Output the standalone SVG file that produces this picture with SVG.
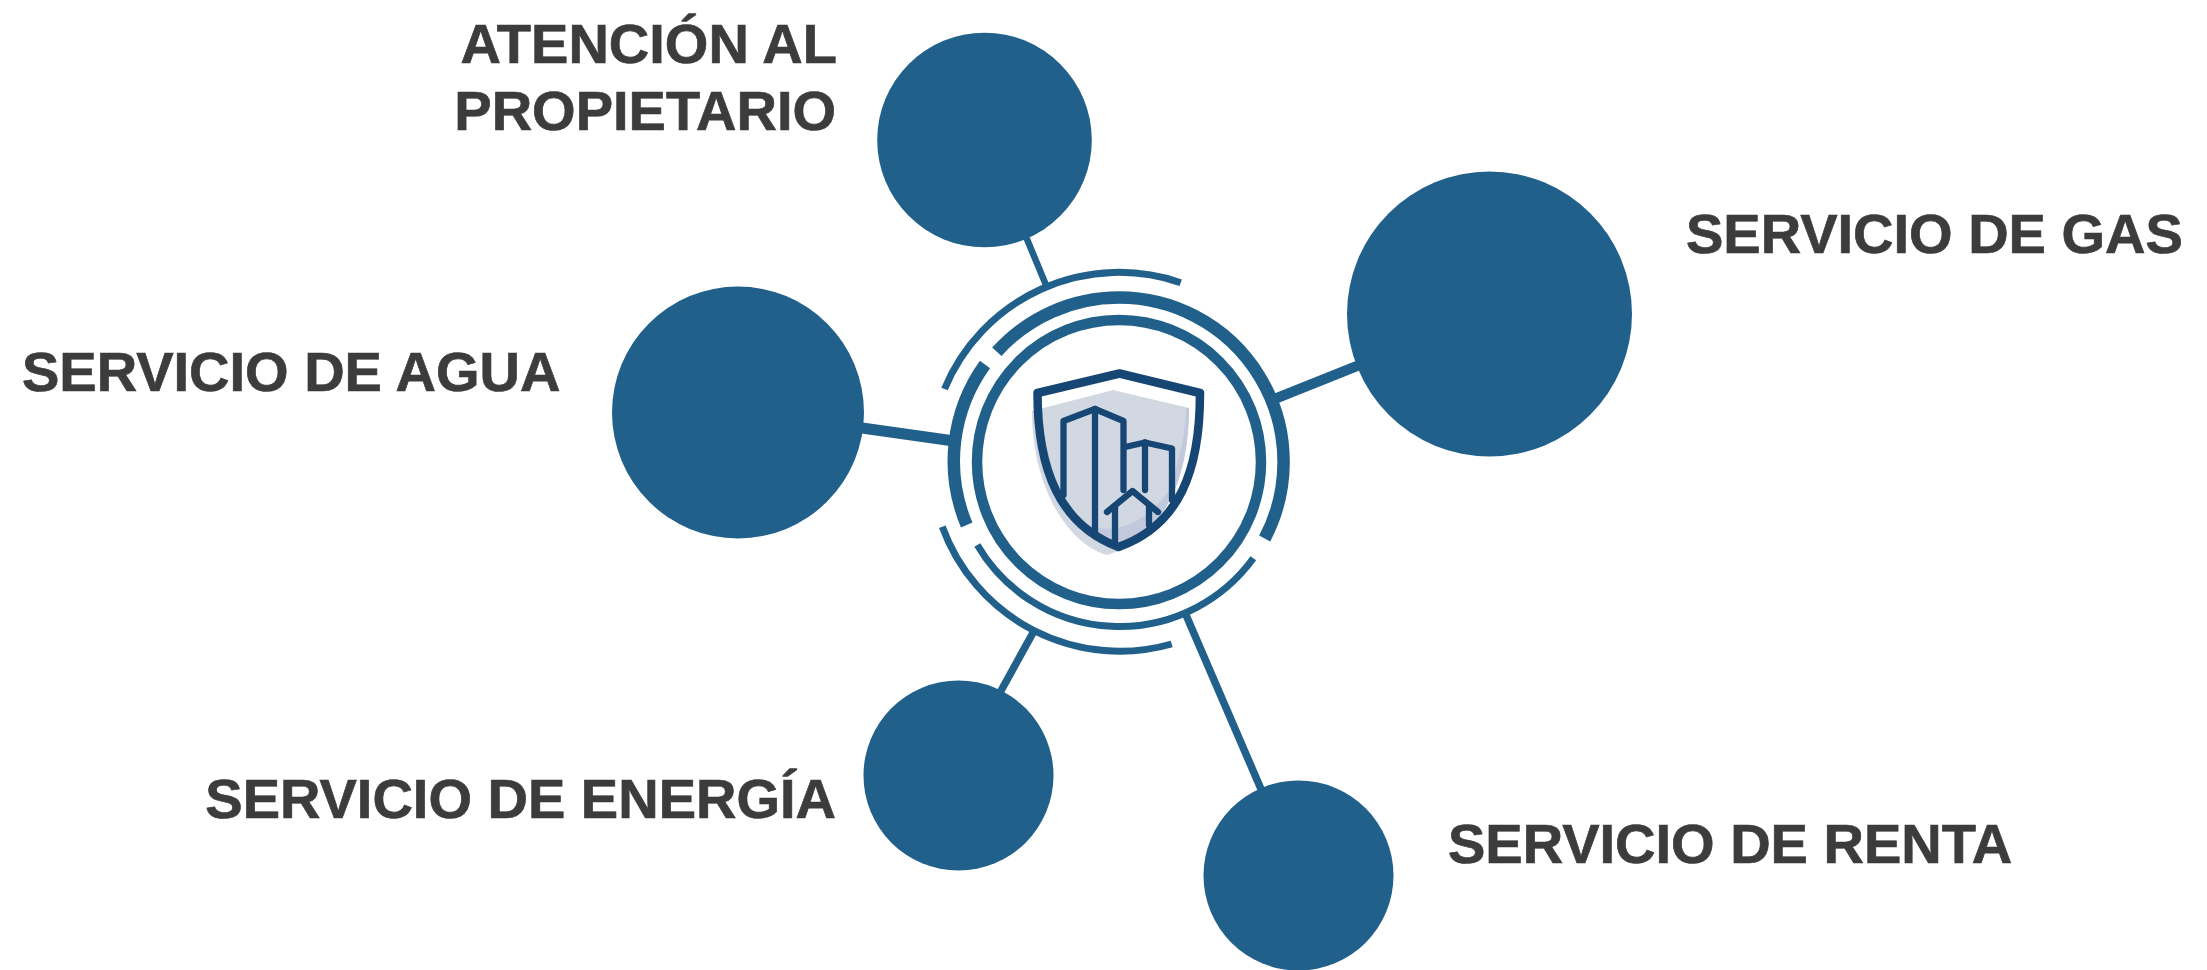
<svg xmlns="http://www.w3.org/2000/svg" width="2207" height="970" viewBox="0 0 2207 970">
<style>
.n{fill:#20608b}
.t{font-family:"Liberation Sans",Arial,sans-serif;font-weight:700;font-size:56px;fill:#3c3c3c;stroke:#3c3c3c;stroke-width:.7px}
.c{stroke:#20608b;fill:none}
.r{stroke:#20608b;fill:none}
.i{stroke:#164673;fill:none;stroke-width:6.300px;stroke-linejoin:round;stroke-linecap:round}
</style>
<rect width="2207" height="970" fill="#fff"/>
<g id="connectors">
<line class="c" x1="1024" y1="232" x2="1046" y2="285" stroke-width="6.500"/>
<line class="c" x1="1272" y1="400" x2="1362" y2="364" stroke-width="10.500"/>
<line class="c" x1="855" y1="427" x2="954" y2="441" stroke-width="11"/>
<line class="c" x1="997" y1="698" x2="1034" y2="631" stroke-width="7.500"/>
<line class="c" x1="1186" y1="615" x2="1264" y2="796" stroke-width="7.500"/>
</g>
<g id="node-propietario">
<circle class="n" cx="984.500" cy="140" r="107.300"/>
<text class="t" x="837" y="63" text-anchor="end">ATENCIÓN AL</text>
<text class="t" x="836" y="130" text-anchor="end">PROPIETARIO</text>
</g>
<g id="node-gas">
<circle class="n" cx="1489.500" cy="314" r="142.500"/>
<text class="t" x="1686" y="253">SERVICIO DE GAS</text>
</g>
<g id="node-agua">
<circle class="n" cx="738" cy="412.500" r="126"/>
<text class="t" x="22" y="391">SERVICIO DE AGUA</text>
</g>
<g id="node-energia">
<circle class="n" cx="958.500" cy="775.500" r="95"/>
<text class="t" x="836" y="818" text-anchor="end">SERVICIO DE ENERGÍA</text>
</g>
<g id="node-renta">
<circle class="n" cx="1298.500" cy="875.500" r="95"/>
<text class="t" x="1448" y="863">SERVICIO DE RENTA</text>
</g>
<g id="hub">
<circle class="r" cx="1119" cy="462" r="142" stroke-width="10.500"/>
<path class="r" stroke-width="12.500" d="M996.800 351.800A164.500 164.500 0 0 1 1119 297.500A164.500 164.500 0 0 1 1264.700 538.500"/>
<path class="r" stroke-width="12.500" d="M985 364.500A165 165 0 0 0 966.700 525"/>
<path class="r" stroke-width="7" d="M1253.300 558.300A165 165 0 0 1 977.300 545"/>
<path class="r" stroke-width="7" d="M944.500 389A189 189 0 0 1 1180.700 282.700"/>
<path class="r" stroke-width="7" d="M942.300 526.700A189 189 0 0 0 1171.700 644"/>
<g id="shield">
<path fill="#d1d8e2" d="M1032 411L1113 390L1189 408C1189 450 1178 490 1166 497C1160 530 1140 545 1107 555C1070 545 1032 490 1032 411Z"/>
<path fill="#c3c9dc" d="M1040 410C1050 470 1062 505 1075 515C1100 540 1140 530 1168 492C1180 460 1186 430 1186 408L1189 408C1189 470 1170 530 1118 545C1070 530 1040 480 1040 410Z"/>
<path class="i" style="stroke-width:8.500px" d="M1037.500 393L1119.500 373.500L1200 393C1200 470 1180 525 1118.500 547C1060 525 1037.500 470 1037.500 393Z"/>
<path class="i" d="M1063.500 495V421L1095 409L1123.500 421V490"/>
<path class="i" d="M1095 409V532"/>
<path class="i" d="M1125 447L1145 442.500L1172 448.500V500"/>
<path class="i" d="M1145 442.500V490"/>
<path class="i" d="M1107 512L1132.500 491L1158 512"/>
<path class="i" d="M1115 507V543"/>
<path class="i" d="M1149 507V525"/>
</g>
</g>
</svg>
